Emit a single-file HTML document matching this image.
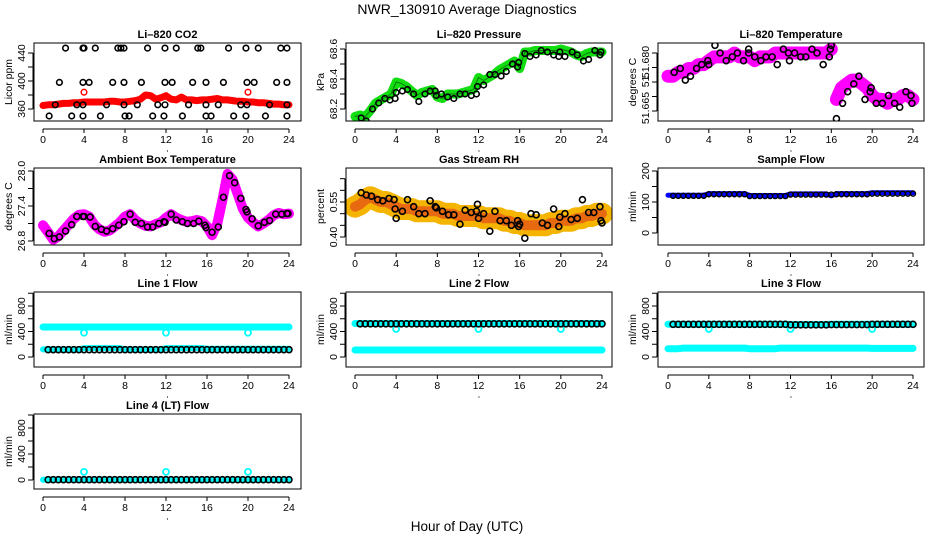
<!DOCTYPE html>
<html><head><meta charset="utf-8"><style>
html,body{margin:0;padding:0;background:#fff;}
svg{display:block;font-family:"Liberation Sans",Arial,sans-serif;}
</style></head><body>
<svg id="chart" width="936" height="540" viewBox="0 0 936 540" xmlns="http://www.w3.org/2000/svg">
<text x="467" y="14" text-anchor="middle" font-size="14">NWR_130910  Average Diagnostics</text>
<text x="467" y="531" text-anchor="middle" font-size="13.5">Hour of Day (UTC)</text>
</svg>
<script>
const hours=[0,0.5,1,1.5,2,2.5,3,3.5,4,4.5,5,5.5,6,6.5,7,7.5,8,8.5,9,9.5,10,10.5,11,11.5,12,12.5,13,13.5,14,14.5,15,15.5,16,16.5,17,17.5,18,18.5,19,19.5,20,20.5,21,21.5,22,22.5,23,23.5,24];
const xTicks=[0,4,8,12,16,20,24];

// CO2
const co2Red=[365,366,366,367,368,368,369,369,370,370,370,370,370,371,371,370,370,371,372,374,380,379,374,376,379,374,373,377,373,373,372,373,373,374,375,373,373,372,371,371,370,370,369,369,368,367,367,366,366];
const co2RedOutH=[4,20];
const co2RedOutV=[384,384];
const co2BlackH=[2.2,3.9,4,5.1,7.3,7.6,7.9,10.2,11.9,13,15.1,15.4,18.1,19.8,21,23.2,23.8, 1.6,3.9,4.5,6.8,7.9,9.6,11.9,12.6,14.6,15.9,17.6,19.9,20.6,22.8,23.8, 1.2,3.3,3.9,6.2,7.9,9.2,11.2,11.9,14.2,15.9,17.1,19.3,19.9,22.1,23.8, 0.6,2.8,3.9,5.6,8,8.4,10.7,11.8,13.6,15.9,16.4,18.6,19.8,21.7,23.8];
const co2BlackV=[447,447,447,447,447,447,447,447,447,447,447,447,447,447,447,447,447, 398,398,398,398,398,398,398,398,398,398,398,398,398,398,398, 366,366,366,366,366,366,366,366,366,366,366,366,366,366,366, 350,350,350,350,350,350,350,350,350,350,350,350,350,350,350];

// Pressure
const presGreen=[68.15,68.16,68.15,68.19,68.24,68.26,68.28,68.30,68.38,68.37,68.35,68.32,68.29,68.31,68.32,68.33,68.28,68.27,68.30,68.30,68.30,68.31,68.32,68.33,68.41,68.39,68.41,68.43,68.46,68.48,68.50,68.52,68.47,68.58,68.58,68.59,68.59,68.59,68.59,68.59,68.60,68.59,68.58,68.56,68.55,68.57,68.58,68.58,68.58];
const presBlackH=[0.6,1.1,1.7,2.3,2.9,3.4,3.9,4,4.6,5.1,5.7,6.2,6.8,7.3,7.8,7.9,8.4,9,9.6,10.2,10.7,11.3,11.8,11.9,12.5,13.1,13.6,14.2,14.7,15.3,15.8,15.9,16.5,17,17.6,18.1,18.7,19.3,19.8,19.9,20.4,21.1,21.6,22.2,22.7,23.3,23.8,23.9];
const presBlackV=[68.14,68.12,68.2,68.24,68.27,68.26,68.27,68.31,68.32,68.33,68.3,68.25,68.3,68.32,68.32,68.29,68.3,68.28,68.27,68.3,68.3,68.29,68.3,68.35,68.36,68.43,68.43,68.42,68.45,68.5,68.48,68.51,68.57,68.55,68.56,68.59,68.58,68.56,68.55,68.58,68.55,68.58,68.56,68.52,68.53,68.59,68.56,68.58];

// Li-820 temperature
const ltMag=[51.674,51.674,51.675,51.675,51.676,51.676,51.677,51.677,51.678,51.679,51.679,51.679,51.679,51.680,51.679,51.679,51.679,51.678,51.679,51.679,51.679,51.680,51.680,51.680,51.680,51.680,51.680,51.680,51.680,51.680,51.680,51.680,51.681,51.668,51.671,51.672,51.673,51.673,51.672,51.671,51.669,51.668,51.668,51.667,51.668,51.668,51.669,51.669,51.668];
const ltBlackH=[0.6,1.2,1.7,2.2,2.8,3.3,3.9,4,4.6,5.1,5.7,6.3,6.8,7.4,7.9,7.9,8.5,9.1,9.6,10.2,10.7,11.3,11.8,11.9,12.4,13,13.5,14.1,14.6,15.2,15.8,15.9,16,16.5,17.1,17.6,18.2,18.7,19.3,19.8,19.9,20.4,21,21.6,22.2,22.7,23.3,23.8,23.9];
const ltBlackV=[51.675,51.676,51.673,51.674,51.676,51.677,51.678,51.677,51.682,51.68,51.678,51.679,51.68,51.678,51.681,51.68,51.679,51.678,51.679,51.679,51.677,51.681,51.68,51.678,51.68,51.679,51.679,51.681,51.68,51.677,51.679,51.681,51.682,51.663,51.667,51.67,51.672,51.674,51.668,51.67,51.671,51.667,51.667,51.669,51.667,51.666,51.67,51.669,51.667];

// Ambient box temperature
const ambMag=[27.07,26.95,26.82,26.88,26.98,27.08,27.18,27.25,27.26,27.22,27.08,27.00,26.96,26.98,27.05,27.12,27.22,27.26,27.16,27.10,27.06,27.05,27.09,27.12,27.20,27.26,27.20,27.16,27.13,27.14,27.16,27.14,27.05,26.90,27.10,27.50,27.95,27.85,27.60,27.35,27.20,27.12,27.05,27.10,27.16,27.24,27.28,27.26,27.27];
const ambBlackH=[0.6,1.1,1.6,2.2,2.8,3.3,3.9,4,4.6,5.1,5.7,6.2,6.8,7.4,7.9,8.5,9,9.6,10.2,10.7,11.3,11.8,11.9,12.5,13,13.6,14.1,14.7,15.2,15.8,15.9,16.5,17.1,17.6,18.2,18.7,19.3,19.8,19.9,20.4,21,21.6,22.1,22.7,23.3,23.8,23.9];
const ambBlackV=[26.93,26.84,26.87,26.97,27.08,27.22,27.22,27.22,27.21,27.05,27.0,26.97,27.01,27.07,27.13,27.26,27.12,27.1,27.04,27.04,27.1,27.13,27.12,27.26,27.16,27.13,27.1,27.1,27.14,27.07,27.03,26.95,27.04,27.55,27.92,27.8,27.53,27.34,27.3,27.18,27.06,27.12,27.15,27.26,27.26,27.27,27.27];

// Gas stream RH
const rhOrange=[0.53,0.54,0.56,0.57,0.56,0.55,0.55,0.54,0.53,0.52,0.52,0.52,0.51,0.51,0.51,0.51,0.51,0.50,0.50,0.50,0.49,0.49,0.49,0.49,0.49,0.48,0.48,0.48,0.48,0.47,0.47,0.46,0.46,0.45,0.45,0.45,0.45,0.45,0.46,0.46,0.47,0.47,0.47,0.48,0.48,0.49,0.49,0.50,0.50];
const rhBlackH=[0.6,1.1,1.6,2.2,2.7,3.3,3.8,3.9,4,4.6,5.1,5.7,6.2,6.8,7.3,7.8,7.9,8.5,9.1,9.6,10.2,10.7,11.3,11.8,11.9,12,12.5,13.1,13.6,14.1,14.7,15.2,15.8,15.9,16,16.5,17.1,17.6,18.2,18.7,19.3,19.8,19.9,20.4,21,21.6,22.1,22.7,23.2,23.8,23.9,24];
const rhBlackV=[0.59,0.58,0.575,0.56,0.555,0.565,0.56,0.52,0.48,0.51,0.56,0.53,0.50,0.50,0.555,0.53,0.525,0.51,0.495,0.495,0.455,0.515,0.505,0.51,0.54,0.48,0.50,0.425,0.51,0.47,0.47,0.45,0.47,0.445,0.455,0.395,0.50,0.495,0.46,0.45,0.52,0.445,0.485,0.50,0.475,0.48,0.56,0.505,0.505,0.53,0.47,0.46];

// Sample flow
const sfBlue=[122,122,122,122,122,122,122,122,127,127,127,127,127,127,127,127,121,121,121,121,121,121,121,121,126,126,126,126,126,126,126,126,120,127,127,127,127,127,127,127,130,130,130,130,130,130,130,130,130];
const sfBlack=[120,120,120,120,120,120,120,120,125,125,125,125,125,125,125,125,119,119,119,119,119,119,119,119,124,124,124,124,124,124,124,124,124,125,125,125,125,125,125,125,127,127,127,127,127,127,127,127,127];

// Line flows
const l1CyanHigh=[470,470,470,470,470,470,470,470,470,470,470,470,470,470,470,470,470,470,470,470,470,470,470,470,470,470,470,470,470,470,470,470,470,470,470,470,470,470,470,470,470,470,470,470,470,470,470,470,470];
const l1CyanLow=[120,120,120,120,120,120,120,120,140,140,140,140,140,140,140,140,120,120,120,120,120,120,120,120,140,140,140,140,140,140,140,140,130,130,130,130,130,130,130,130,130,130,130,130,130,130,130,130,130];
const l1Black=[115,115,115,115,115,115,115,115,115,115,115,115,115,115,115,115,115,115,115,115,115,115,115,115,115,115,115,115,115,115,115,115,115,115,115,115,115,115,115,115,115,115,115,115,115,115,115,115,115];
const l1OutH=[4,12,20];
const l1OutV=[380,380,380];

const l2CyanHigh=[525,525,525,525,525,525,525,525,525,525,525,525,525,525,525,525,525,525,525,525,525,525,525,525,525,525,525,525,525,525,525,525,525,525,525,525,525,525,525,525,525,525,525,525,525,525,525,525,525];
const l2CyanLow=[110,110,110,110,110,110,110,110,110,110,110,110,110,110,110,110,110,110,110,110,110,110,110,110,110,110,110,110,110,110,110,110,110,110,110,110,110,110,110,110,110,110,110,110,110,110,110,110,110];
const l2Black=[520,520,520,520,520,520,520,520,520,520,520,520,520,520,520,520,520,520,520,520,520,520,520,520,520,520,520,520,520,520,520,520,520,520,520,520,520,520,520,520,520,520,520,520,520,520,520,520,520];
const l2OutH=[4,12,20];
const l2OutV=[440,440,440];

const l3CyanHigh=[515,515,515,515,515,515,515,515,515,515,515,515,515,515,515,515,515,515,515,515,515,515,515,515,510,510,510,510,510,510,510,510,515,515,515,515,515,515,515,515,515,515,515,515,515,515,515,515,515];
const l3CyanLow=[130,130,130,140,140,140,140,140,140,140,140,140,140,140,140,140,130,130,130,130,130,130,140,140,140,140,140,140,140,140,140,140,140,140,140,140,140,140,140,140,135,135,135,135,135,135,135,135,135];
const l3Black=[512,512,512,512,512,512,512,512,512,512,512,512,512,512,512,512,512,512,512,512,512,512,512,512,505,505,505,505,505,505,505,505,508,508,508,508,508,508,508,508,512,512,512,512,512,512,512,512,512];
const l3OutH=[4,12,20];
const l3OutV=[440,440,440];

const l4Cyan=[5,5,5,5,5,5,5,5,5,5,5,5,5,5,5,5,5,5,5,5,5,5,5,5,5,5,5,5,5,5,5,5,5,5,5,5,5,5,5,5,5,5,5,5,5,5,5,5,5];
const l4Black=[5,5,5,5,5,5,5,5,5,5,5,5,5,5,5,5,5,5,5,5,5,5,5,5,5,5,5,5,5,5,5,5,5,5,5,5,5,5,5,5,5,5,5,5,5,5,5,5,5];
const l4OutH=[4,12,20];
const l4OutV=[125,125,125];

const flowTicks=[0,200,400,600,800,1000];
const flowLabels=[0,400,800];

const NS='http://www.w3.org/2000/svg';
const svg=document.getElementById('chart');
function mk(tag,attrs,parent){const e=document.createElementNS(NS,tag);for(const k in attrs)e.setAttribute(k,attrs[k]);(parent||svg).appendChild(e);return e;}

const cols=[{bx0:34,bx1:301,t0:43,t24:289},{bx0:346,bx1:612,t0:355,t24:602},{bx0:658,bx1:924,t0:668,t24:913}];
const rows=[{y0:43,y1:121},{y0:168,y1:245},{y0:292,y1:367},{y0:414,y1:489}];

function panel(opt){
  const c=cols[opt.col],r=rows[opt.row];
  const g=mk('g',{});
  
  
  const xs=h=>c.t0+(c.t24-c.t0)*h/24;
  const ys=v=>opt.ya[1]+(v-opt.ya[0])*(opt.yb[1]-opt.ya[1])/(opt.yb[0]-opt.ya[0]);
  const clip='clip-'+opt.name;
  const cp=mk('clipPath',{id:clip},g);
  mk('rect',{x:c.bx0,y:r.y0,width:c.bx1-c.bx0,height:r.y1-r.y0},cp);
  const plot=mk('g',{'clip-path':'url(#'+clip+')'},g);
  const P={g,plot,xs,ys};
  opt.draw(P);
  const box=mk('rect',{x:c.bx0,y:r.y0,width:c.bx1-c.bx0,height:r.y1-r.y0,fill:'none',stroke:'#000','stroke-width':1},g);
  
  
  const tt=mk('text',{x:(c.bx0+c.bx1)/2,y:r.y0-5,'text-anchor':'middle','font-size':11,'font-weight':'bold'},g);
  tt.textContent=opt.title;
  
  
  // x axis
  const ax=r.y1+8;
  const xaxis=mk('g',{},g);
  
  
  mk('line',{x1:xs(0),x2:xs(24),y1:ax,y2:ax,stroke:'#000'},xaxis);
  xTicks.forEach(t=>{
    mk('line',{x1:xs(t),x2:xs(t),y1:ax,y2:ax+4,stroke:'#000'},xaxis);
    const l=mk('text',{x:xs(t),y:ax+14,'text-anchor':'middle','font-size':10.5},xaxis);
    l.textContent=t;
    
    
  });
  mk('circle',{cx:(c.bx0+c.bx1)/2,cy:ax+22,r:0.6,fill:'#000'},xaxis);
  // y axis
  const yaxis=mk('g',{},g);
  
  
  const ax0=c.bx0-1;
  const tks=opt.ticks;
  mk('line',{x1:ax0,x2:ax0,y1:ys(tks[0]),y2:ys(tks[tks.length-1]),stroke:'#000'},yaxis);
  tks.forEach(t=>mk('line',{x1:ax0-5,x2:ax0,y1:ys(t),y2:ys(t),stroke:'#000'},yaxis));
  opt.labels.forEach((t,i)=>{
    const yy=opt.labelPos?opt.labelPos[i]:ys(t);
    const l=mk('text',{x:0,y:0,'text-anchor':'middle','font-size':10.5,transform:'translate('+(ax0-8)+','+yy+') rotate(-90)'},yaxis);
    l.textContent=opt.labelText?opt.labelText[i]:t;
    
    
  });
  const yt=mk('text',{x:0,y:0,'text-anchor':'middle','font-size':10.5,transform:'translate('+(ax0-21)+','+((r.y0+r.y1)/2)+') rotate(-90)'},yaxis);
  yt.textContent=opt.ylab;
  
  
}
function band(P,hs,vs,color,w,name){
  const pts=hs.map((h,i)=>P.xs(h).toFixed(1)+','+P.ys(vs[i]).toFixed(1)).join(' ');
  const pl=mk('polyline',{points:pts,fill:'none',stroke:color,'stroke-width':w,'stroke-linejoin':'round','stroke-linecap':'round'},P.plot);
  
  
}
function dots(P,hs,vs,color,r,sw,name,fill){
  hs.forEach((h,i)=>{
    const c=mk('circle',{cx:P.xs(h),cy:P.ys(vs[i]),r:r,fill:fill||'none',stroke:color,'stroke-width':sw},P.plot);
    
    
  });
}
function sub(arr,from){return arr.slice(from);}

panel({name:'co2-panel',col:0,row:0,title:'Li\u2013820 CO2',ylab:'Licor ppm',ya:[360,109],yb:[440,53],ticks:[360,380,400,420,440],labels:[360,400,440],
  draw:P=>{band(P,hours,co2Red,'#ff0000',7,'co2-red-series');dots(P,co2RedOutH,co2RedOutV,'#ff0000',2.8,1.5,'co2-red-outlier');dots(P,co2BlackH,co2BlackV,'#000',2.8,1.6,'co2-black-point');}});
panel({name:'pressure-panel',col:1,row:0,title:'Li\u2013820 Pressure',ylab:'kPa',ya:[68.2,109],yb:[68.6,49],ticks:[68.2,68.3,68.4,68.5,68.6],labels:[68.2,68.4,68.6],labelText:['68.2','68.4','68.6'],
  draw:P=>{band(P,hours,presGreen,'#11dd11',9,'pressure-green-series');band(P,hours,presGreen,'#0a7a0a',1,'pressure-green-core');dots(P,presBlackH,presBlackV,'#000',2.8,1.6,'pressure-black-point');}});
panel({name:'li820-temp-panel',col:2,row:0,title:'Li\u2013820 Temperature',ylab:'degrees C',ya:[51.665,111],yb:[51.68,53],ticks:[51.665,51.66875,51.6725,51.67625,51.68],labels:[51.665,51.6725,51.68],labelPos:[108,80,62],labelText:['51.665','51.','51.680'],
  draw:P=>{band(P,sub(hours,0).slice(0,33),ltMag.slice(0,33),'#ff00ff',13,'li-temp-magenta-series');band(P,hours.slice(33),ltMag.slice(33),'#ff00ff',13,'li-temp-magenta-series-2');dots(P,ltBlackH,ltBlackV,'#000',3,1.6,'li-temp-black-point');}});
panel({name:'ambient-temp-panel',col:0,row:1,title:'Ambient Box Temperature',ylab:'degrees C',ya:[26.8,241],yb:[28.0,171],ticks:[26.8,27.1,27.4,27.7,28.0],labels:[26.8,27.4,28.0],labelText:['26.8','27.4','28.0'],
  draw:P=>{band(P,hours,ambMag,'#ff00ff',10,'ambient-magenta-series');dots(P,ambBlackH,ambBlackV,'#000',3,1.6,'ambient-black-point');}});
panel({name:'rh-panel',col:1,row:1,title:'Gas Stream RH',ylab:'percent',ya:[0.40,237],yb:[0.55,202],ticks:[0.40,0.45,0.50,0.55,0.60,0.65],labels:[0.40,0.55],labelText:['0.40','0.55'],
  draw:P=>{band(P,hours,rhOrange,'#f5b400',22,'rh-orange-series');band(P,hours,rhOrange,'#e86a10',10,'rh-orange-core');dots(P,rhBlackH,rhBlackV,'#000',3,1.6,'rh-black-point');}});
panel({name:'sample-flow-panel',col:2,row:1,title:'Sample Flow',ylab:'ml/min',ya:[0,233],yb:[200,171],ticks:[0,50,100,150,200],labels:[0,100,200],
  draw:P=>{band(P,hours,sfBlue,'#0000ff',5,'sample-flow-blue-series');dots(P,hours.slice(1),sfBlack.slice(1),'#000',2.5,1.4,'sample-flow-black-point');}});
panel({name:'line1-flow-panel',col:0,row:2,title:'Line 1 Flow',ylab:'ml/min',ya:[0,357],yb:[800,306],ticks:flowTicks,labels:flowLabels,
  draw:P=>{band(P,hours,l1CyanHigh,'#00ffff',7,'line1-cyan-high');band(P,hours,l1CyanLow,'#00ffff',6,'line1-cyan-low');dots(P,l1OutH,l1OutV,'#00ffff',3,1.8,'line1-cyan-outlier');dots(P,hours.slice(1),l1Black.slice(1),'#000',3,1.6,'line1-black-point');}});
panel({name:'line2-flow-panel',col:1,row:2,title:'Line 2 Flow',ylab:'ml/min',ya:[0,357],yb:[800,306],ticks:flowTicks,labels:flowLabels,
  draw:P=>{band(P,hours,l2CyanHigh,'#00ffff',7,'line2-cyan-high');band(P,hours,l2CyanLow,'#00ffff',7,'line2-cyan-low');dots(P,l2OutH,l2OutV,'#00ffff',3,1.8,'line2-cyan-outlier');dots(P,hours.slice(1),l2Black.slice(1),'#000',3,1.6,'line2-black-point');}});
panel({name:'line3-flow-panel',col:2,row:2,title:'Line 3 Flow',ylab:'ml/min',ya:[0,357],yb:[800,306],ticks:flowTicks,labels:flowLabels,
  draw:P=>{band(P,hours,l3CyanHigh,'#00ffff',7,'line3-cyan-high');band(P,hours,l3CyanLow,'#00ffff',7,'line3-cyan-low');dots(P,l3OutH,l3OutV,'#00ffff',3,1.8,'line3-cyan-outlier');dots(P,hours.slice(1),l3Black.slice(1),'#000',3,1.6,'line3-black-point');}});
panel({name:'line4-flow-panel',col:0,row:3,title:'Line 4 (LT) Flow',ylab:'ml/min',ya:[0,480],yb:[800,428],ticks:flowTicks,labels:flowLabels,
  draw:P=>{band(P,hours,l4Cyan,'#00ffff',6,'line4-cyan-series');dots(P,l4OutH,l4OutV,'#00ffff',3,1.8,'line4-cyan-outlier');dots(P,hours.slice(1),l4Black.slice(1),'#000',3,1.6,'line4-black-point');}});
</script>
</body></html>
